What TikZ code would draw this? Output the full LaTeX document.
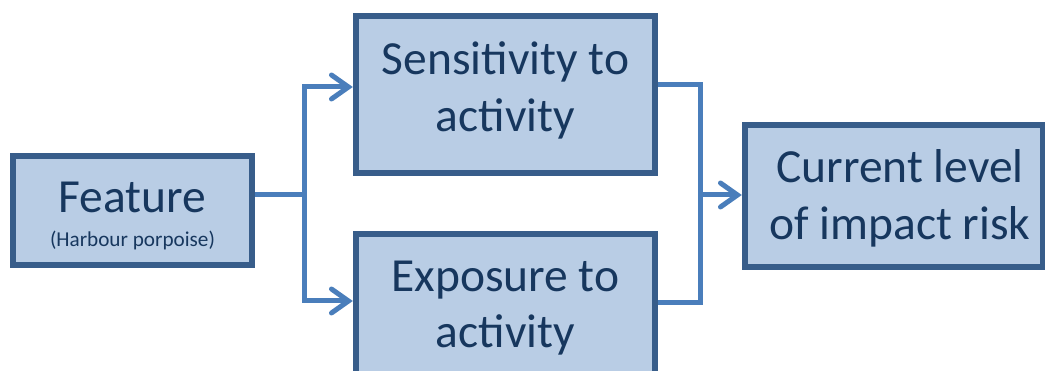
\documentclass[tikz,border=0pt]{standalone}
\usepackage{fontspec}
\setmainfont{Carlito}
\usetikzlibrary{arrows.meta,calc}
\definecolor{boxfill}{HTML}{B9CDE5}
\definecolor{boxline}{HTML}{385D8A}
\definecolor{connc}{HTML}{4A7EBB}
\definecolor{txt}{HTML}{17375E}
\begin{document}
\begin{tikzpicture}[x=1pt,y=-1pt,
  box/.style={draw=boxline, fill=boxfill, line width=6pt, inner sep=0pt},
  lbl/.style={text=txt, font=\fontsize{47.5}{56}\selectfont, inner sep=0pt, anchor=base},
  small/.style={text=txt, font=\fontsize{21.2}{24}\selectfont, inner sep=0pt, anchor=base},
  wire/.style={draw=connc, line width=5pt},
  arrowwire/.style={wire, -{Straight Barb[length=17pt,width=24pt,line cap=round]}, shorten >=3pt}
]
\useasboundingbox (0,0) rectangle (1045,371);
% box geometry (nodes drawn after connectors)
\path node[minimum width=239pt, minimum height=109pt, inner sep=0pt] (feat) at (132.5,210.5) {}
      node[minimum width=299pt, minimum height=157pt, inner sep=0pt] (sens) at (505.5,94.5) {}
      node[minimum width=299pt, minimum height=157pt, inner sep=0pt] (exps) at (505.5,312.5) {}
      node[minimum width=298pt, minimum height=142pt, inner sep=0pt] (curr) at (894,196) {};
\coordinate (j1) at (304,195);
\coordinate (j2) at (700,195);
% connectors
\draw[wire] (feat.east |- j1) -- (j1);
\draw[arrowwire] (j1) |- ($(sens.west)+(0,-7.5)$);
\draw[arrowwire] (j1) |- ($(exps.west)+(0,-11.5)$);
\draw[wire] ($(sens.east)+(0,-9.5)$) -| (j2) |- ($(exps.east)+(0,-9.5)$);
\draw[arrowwire] (j2) -- (curr.west |- j2);
% boxes
\draw[box] (feat.north west) rectangle (feat.south east);
\draw[box] (sens.north west) rectangle (sens.south east);
\draw[box] (exps.north west) rectangle (exps.south east);
\draw[box] (curr.north west) rectangle (curr.south east);
% texts
\node[lbl] (featt) at (132.5,213) {Feature};
\node[small] (feats) at (132.5,247) {(Harbour porpoise)};
\node[lbl] (sens1) at (505.5,75) {Sensitivity to};
\node[lbl] (sens2) at (505.5,132) {activity};
\node[lbl] (exps1) at (505.5,292) {Exposure to};
\node[lbl] (exps2) at (505.5,348) {activity};
\node[lbl] (curr1) at (900,183) {Current level};
\node[lbl] (curr2) at (900,240) {of impact risk};
\end{tikzpicture}
\end{document}
